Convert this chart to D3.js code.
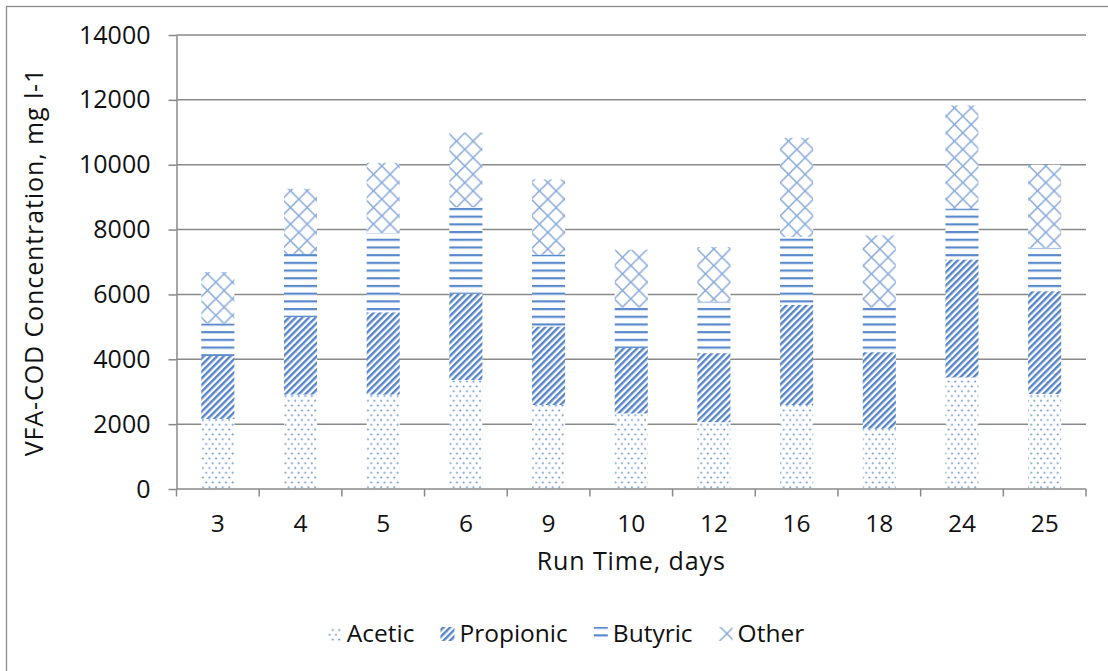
<!DOCTYPE html>
<html>
<head>
<meta charset="utf-8">
<script src="https://cdn.jsdelivr.net/npm/d3@7/dist/d3.min.js"></script>
<style>
  html, body { margin: 0; padding: 0; background: #fff; }
  svg { display: block; font-family: "Open Sans", "Liberation Sans", sans-serif; }
</style>
</head>
<body>
<svg id="chart" width="1108" height="671"></svg>
<script>
// Run-time samples (days) and VFA fractions as COD, mg/l
const categories = ["3", "4", "5", "6", "9", "10", "12", "16", "18", "24", "25"];
const acetic    = [2160, 2910, 2910, 3360, 2590, 2330, 2060, 2590, 1860, 3440, 2930];
const propionic = [1940, 2390, 2540, 2660, 2420, 2020, 2130, 3090, 2360, 3640, 3170];
const butyric   = [1010, 1950, 2450, 2670, 2220, 1250, 1590, 2090, 1380, 1570, 1340];
const other     = [1580, 2010, 2160, 2300, 2320, 1780, 1680, 3060, 2220, 3180, 2560];
const seriesNames = ["Acetic", "Propionic", "Butyric", "Other"];
const yTicks = [0, 2000, 4000, 6000, 8000, 10000, 12000, 14000];
const xTitle = "Run Time, days";
const yTitle = "VFA-COD Concentration, mg l-1";

const svg = d3.select("#chart");
const plot = { left: 176.5, right: 1086, top: 35, bottom: 489 };
const grid = "#898989";
const ink = "#111";

// outer chart frame (only top and left edges fall inside the view)
svg.append("rect")
  .attr("x", 6.5).attr("y", 6.5)
  .attr("width", 1300).attr("height", 900)
  .attr("fill", "#fff").attr("stroke", "#8c8c8c").attr("stroke-width", 1.3);

// ---- hatch patterns, one per series ----
const defs = svg.append("defs");

// Acetic: staggered dots
const pDots = defs.append("pattern").attr("id", "pat-acetic")
  .attr("patternUnits", "userSpaceOnUse").attr("width", 6.6).attr("height", 9.6);
pDots.append("rect").attr("width", 6.6).attr("height", 9.6).attr("fill", "#fff");
pDots.append("circle").attr("cx", 1.6).attr("cy", 2.4).attr("r", 1.05).attr("fill", "#6b96d3");
pDots.append("circle").attr("cx", 4.9).attr("cy", 7.2).attr("r", 1.05).attr("fill", "#6b96d3");

// Propionic: wide upward diagonal stripes
const pDiag = defs.append("pattern").attr("id", "pat-propionic")
  .attr("patternUnits", "userSpaceOnUse").attr("width", 4.7).attr("height", 10)
  .attr("patternTransform", "rotate(45)");
pDiag.append("rect").attr("width", 4.7).attr("height", 10).attr("fill", "#fff");
pDiag.append("rect").attr("x", 0).attr("width", 2.4).attr("height", 10).attr("fill", "#5585c8");

// Butyric: horizontal lines
const pHor = defs.append("pattern").attr("id", "pat-butyric")
  .attr("patternUnits", "userSpaceOnUse").attr("width", 10).attr("height", 7.7);
pHor.append("rect").attr("width", 10).attr("height", 7.7).attr("fill", "#fff");
pHor.append("rect").attr("y", 0).attr("width", 10).attr("height", 2.2).attr("fill", "#5a8acb");

// Other: diamond lattice
const pDia = defs.append("pattern").attr("id", "pat-other")
  .attr("patternUnits", "userSpaceOnUse").attr("width", 16.6).attr("height", 16.6);
pDia.append("rect").attr("width", 16.6).attr("height", 16.6).attr("fill", "#fff");
pDia.append("path").attr("d", "M0,0L16.6,16.6M16.6,0L0,16.6")
  .attr("stroke", "#86a8db").attr("stroke-width", 1.5).attr("fill", "none");

const fills = {
  Acetic: "url(#pat-acetic)",
  Propionic: "url(#pat-propionic)",
  Butyric: "url(#pat-butyric)",
  Other: "url(#pat-other)"
};

// ---- scales ----
const x = d3.scaleBand().domain(categories)
  .range([plot.left, plot.right]).paddingInner(0.6).paddingOuter(0.3);
const y = d3.scaleLinear().domain([0, 14000]).range([plot.bottom, plot.top]);

// gridlines
svg.append("g").selectAll("line").data(yTicks.slice(1)).join("line")
  .attr("x1", plot.left).attr("x2", plot.right)
  .attr("y1", d => y(d)).attr("y2", d => y(d))
  .attr("stroke", grid).attr("stroke-width", 1.5);

// stacked bars
const rows = categories.map((c, i) => ({
  cat: c, Acetic: acetic[i], Propionic: propionic[i], Butyric: butyric[i], Other: other[i]
}));
const stacked = d3.stack().keys(seriesNames)(rows);

svg.append("g").selectAll("g").data(stacked).join("g")
  .attr("fill", s => fills[s.key])
  .selectAll("rect").data(s => s).join("rect")
  .attr("x", d => x(d.data.cat))
  .attr("width", x.bandwidth())
  .attr("y", d => y(d[1]))
  .attr("height", d => y(d[0]) - y(d[1]));

// y axis
const yAxis = svg.append("g")
  .attr("transform", `translate(${plot.left},0)`)
  .call(d3.axisLeft(y).tickValues(yTicks).tickFormat(d3.format("d"))
    .tickSize(8).tickPadding(18).tickSizeOuter(0));
yAxis.select(".domain").attr("stroke", grid).attr("stroke-width", 1.5);
yAxis.selectAll(".tick line").attr("stroke", grid).attr("stroke-width", 1.5);
yAxis.selectAll(".tick text")
  .attr("font-size", 25).attr("fill", ink).attr("font-family", "Open Sans");

// x axis, ticks on the category boundaries
const xAxis = svg.append("g").attr("transform", `translate(0,${plot.bottom})`);
xAxis.append("line")
  .attr("x1", plot.left).attr("x2", plot.right)
  .attr("stroke", grid).attr("stroke-width", 1.5);
const edges = d3.range(categories.length + 1).map(i => plot.left + i * x.step());
xAxis.selectAll(".xt").data(edges).join("line").attr("class", "xt")
  .attr("x1", d => d).attr("x2", d => d).attr("y1", 0).attr("y2", 7.5)
  .attr("stroke", grid).attr("stroke-width", 1.5);
xAxis.selectAll("text").data(categories).join("text")
  .attr("x", d => x(d) + x.bandwidth() / 2)
  .attr("y", 43)
  .attr("text-anchor", "middle")
  .attr("font-size", 24.5).attr("fill", ink)
  .text(d => d);

// axis titles
svg.append("text")
  .attr("x", (plot.left + plot.right) / 2).attr("y", 570)
  .attr("text-anchor", "middle").attr("font-size", 25).attr("fill", ink)
  .attr("letter-spacing", 0.9)
  .text(xTitle);
svg.append("text")
  .attr("transform", `translate(43,${(plot.top + plot.bottom) / 2}) rotate(-90)`)
  .attr("text-anchor", "middle").attr("font-size", 25).attr("fill", ink)
  .attr("letter-spacing", 0.9)
  .text(yTitle);

// legend
const legend = svg.append("g");
const items = legend.selectAll("g").data(seriesNames).join("g");
items.append("rect")
  .attr("x", 0).attr("y", -15).attr("width", 14).attr("height", 14)
  .attr("fill", d => fills[d]);
items.append("text")
  .attr("x", 19).attr("y", 0)
  .attr("font-size", 24.5).attr("fill", ink)
  .text(d => d);
const widths = [];
items.each(function () {
  widths.push(19 + this.querySelector("text").getComputedTextLength());
});
const gap = 26;
const total = d3.sum(widths) + gap * (widths.length - 1);
const startX = 566 - total / 2;
let cursor = 0;
items.attr("transform", (d, i) => {
  const tx = startX + cursor;
  cursor += widths[i] + gap;
  return `translate(${tx},642)`;
});
</script>
</body>
</html>
